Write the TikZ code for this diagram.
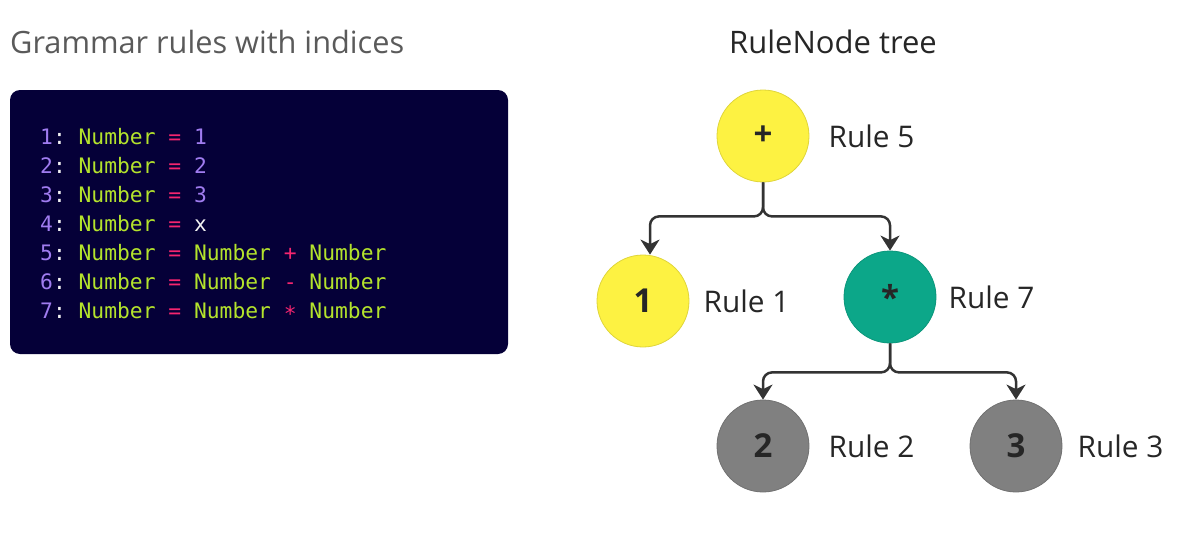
\documentclass[tikz,border=0pt]{standalone}
\usepackage{fontspec}
\setmainfont{Open Sans}
\setmonofont{DejaVu Sans Mono}
\usepackage{tikz}
\usetikzlibrary{arrows.meta, positioning}

\definecolor{codebg}{HTML}{050038}
\definecolor{codenum}{HTML}{A07CF0}
\definecolor{codeid}{HTML}{B4E32C}
\definecolor{codeop}{HTML}{F5256F}
\definecolor{codeplain}{HTML}{F2F2F2}
\definecolor{titlegray}{HTML}{5A5A5A}
\definecolor{nodeyellow}{HTML}{FDF242}
\definecolor{nodeteal}{HTML}{0CA789}
\definecolor{nodegray}{HTML}{808080}
\definecolor{linkgray}{HTML}{333333}

\newcommand{\cnum}[1]{\textcolor{codenum}{#1}}
\newcommand{\cid}[1]{\textcolor{codeid}{#1}}
\newcommand{\cop}[1]{\textcolor{codeop}{#1}}
\newcommand{\cpl}[1]{\textcolor{codeplain}{#1}}

\tikzset{
  rulenode/.style={circle, minimum size=92pt, inner sep=0pt, line width=0.8pt,
    font=\fontsize{33}{33}\selectfont\bfseries, text=black!85},
  rulelabel/.style={anchor=west, inner sep=0pt, font=\fontsize{29.8}{29.8}\selectfont, text=black!85},
  codeline/.style={anchor=base west, inner sep=0pt, font=\ttfamily\fontsize{21.3}{21.3}\selectfont},
  link/.style={draw=linkgray, line width=2.5pt, rounded corners=9pt,
    -{Stealth[length=15pt,width=19pt,inset=4.5pt]}}
}

\begin{document}
\begin{tikzpicture}[x=1pt, y=-1pt]
			\useasboundingbox (0,0) rectangle (1194,535);
			
			% left: grammar rules
			\node[anchor=west, inner sep=0pt, text=titlegray, font=\fontsize{30.7}{30.7}\selectfont] (gtitle) at (10,42) {Grammar rules with indices};
			\fill[codebg, rounded corners=10pt] (10,90) rectangle (508,354);
			\node[codeline] (r1) at (40,144) {\cnum{1}\cpl{:} \cid{Number} \cop{=} \cnum{1}};
			\node[codeline] (r2) at (40,173) {\cnum{2}\cpl{:} \cid{Number} \cop{=} \cnum{2}};
			\node[codeline] (r3) at (40,202) {\cnum{3}\cpl{:} \cid{Number} \cop{=} \cnum{3}};
			\node[codeline] (r4) at (40,231) {\cnum{4}\cpl{:} \cid{Number} \cop{=} \cpl{x}};
			\node[codeline] (r5) at (40,260) {\cnum{5}\cpl{:} \cid{Number} \cop{=} \cid{Number} \cop{+} \cid{Number}};
			\node[codeline] (r6) at (40,289) {\cnum{6}\cpl{:} \cid{Number} \cop{=} \cid{Number} \cop{-} \cid{Number}};
			\node[codeline] (r7) at (40,318) {\cnum{7}\cpl{:} \cid{Number} \cop{=} \cid{Number} \cop{\raisebox{-0.3ex}{*}} \cid{Number}};
			
			% right: RuleNode tree
			\node[inner sep=0pt, text=black!85, font=\fontsize{31}{31}\selectfont] (ttitle) at (833,42) {RuleNode tree};
			\node[rulenode, fill=nodeyellow, draw=nodeyellow!88!black] (plus) at (763,136) {+};
			\node[rulenode, fill=nodeyellow, draw=nodeyellow!88!black] (one) at (643,301) {1};
			\node[rulenode, fill=nodeteal, draw=nodeteal!90!black] (star) at (890,297) {*};
			\node[rulenode, fill=nodegray, draw=nodegray!88!black] (two) at (763,446) {2};
			\node[rulenode, fill=nodegray, draw=nodegray!88!black] (three) at (1016,446) {3};
			
			\node[rulelabel, right=19pt of plus] (lplus) {Rule 5};
			\node[rulelabel, right=14pt of one] (lone) {Rule 1};
			\node[rulelabel, right=12pt of star] (lstar) {Rule 7};
			\node[rulelabel, right=19pt of two] (ltwo) {Rule 2};
			\node[rulelabel, right=15pt of three] (lthree) {Rule 3};
			
			\draw[link] (plus.south) -- ++(0,34) -| ([xshift=7pt]one.north);
			\draw[link] (plus.south) -- ++(0,34) -| (star.north);
			\draw[link] (star.south) -- ++(0,29) -| (two.north);
			\draw[link] (star.south) -- ++(0,29) -| (three.north);
		\end{tikzpicture}
\end{document}
